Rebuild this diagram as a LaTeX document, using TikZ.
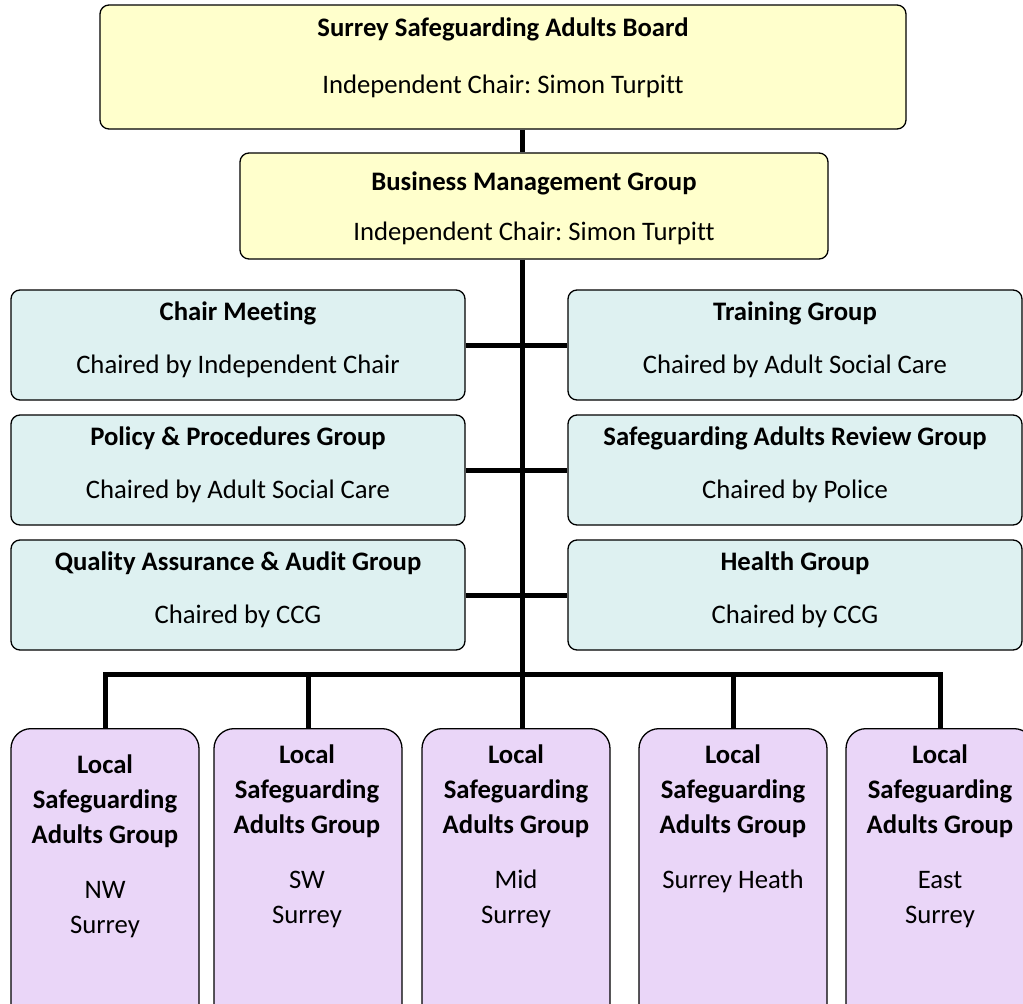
\documentclass[tikz,border=0pt]{standalone}
\usepackage{fontspec}
\setmainfont{Carlito}[Ligatures=NoCommon]
\frenchspacing

\definecolor{boardyellow}{RGB}{255,255,204}
\definecolor{groupcyan}{RGB}{222,241,241}
\definecolor{localviolet}{RGB}{234,214,248}

\begin{document}
\begin{tikzpicture}[x=1pt, y=-1pt,
    box/.style={draw, line width=1.3pt, rounded corners=9pt, inner sep=0pt},
    board/.style={box, fill=boardyellow},
    group/.style={box, fill=groupcyan, minimum width=454pt, minimum height=110pt,
        align=center, font=\fontsize{26.7}{53}\selectfont, text depth=14pt},
    local/.style={box, fill=localviolet, rounded corners=20pt, anchor=north,
        minimum width=188pt, minimum height=300pt},
    words/.style={inner sep=0pt, align=center, anchor=north, font=\fontsize{26.7}{35}\selectfont},
    link/.style={line width=5pt}]

    \useasboundingbox (0,0) rectangle (1023,1004);
    \clip (0,0) rectangle (1023,1004);

    % board and business group
    \node[board, minimum width=806pt, minimum height=124pt] (ssab) at (503,67) {};
    \node[words] (ssabt) at (503,18) {\textbf{Surrey Safeguarding Adults Board}\\[22pt]Independent Chair: Simon Turpitt};

    \node[board, minimum width=588pt, minimum height=106pt] (bmg) at (534,206) {};
    \node[words] (bmgt) at (534,172) {\textbf{Business Management Group}\\[15pt]Independent Chair: Simon Turpitt};

    % sub groups
    \node[group] (cm) at (238,345) {\textbf{Chair Meeting}\\Chaired by Independent Chair};
    \node[group] (tg) at (795,345) {\textbf{Training Group}\\Chaired by Adult Social Care};
    \node[group] (pp) at (238,470) {\textbf{Policy \& Procedures Group}\\Chaired by Adult Social Care};
    \node[group] (sar) at (795,470) {\textbf{Safeguarding Adults Review Group}\\Chaired by Police};
    \node[group] (qa) at (238,595) {\textbf{Quality Assurance \& Audit Group}\\Chaired by CCG};
    \node[group] (hg) at (795,595) {\textbf{Health Group}\\Chaired by CCG};

    % local groups
    \node[local] (nw) at (105,728) {};
    \node[words] (nwt) at (105,755) {\textbf{Local}\\\textbf{Safeguarding}\\\textbf{Adults Group}\\[20pt]NW\\Surrey};
    \node[local] (sw) at (308,728) {};
    \node[words] (swt) at (307,745) {\textbf{Local}\\\textbf{Safeguarding}\\\textbf{Adults Group}\\[20pt]SW\\Surrey};
    \node[local] (mid) at (516,728) {};
    \node[words] (midt) at (516,745) {\textbf{Local}\\\textbf{Safeguarding}\\\textbf{Adults Group}\\[20pt]Mid\\Surrey};
    \node[local] (sh) at (733,728) {};
    \node[words] (sht) at (733,745) {\textbf{Local}\\\textbf{Safeguarding}\\\textbf{Adults Group}\\[20pt]Surrey Heath};
    \node[local] (east) at (940,728) {};
    \node[words] (eastt) at (940,745) {\textbf{Local}\\\textbf{Safeguarding}\\\textbf{Adults Group}\\[20pt]East\\Surrey};

    % connectors
    \coordinate (bus) at (522,674);
    \draw[link] (ssab.south -| bus) -- (bmg.north -| bus);
    \draw[link] (bmg.south -| bus) -- (bus);
    \draw[link] (cm.east) -- (tg.west);
    \draw[link] (pp.east) -- (sar.west);
    \draw[link] (qa.east) -- (hg.west);
    \draw[link] (nw.north) |- (bus) -| (east.north);
    \draw[link] (bus -| sw.north) -- (sw.north);
    \draw[link] (bus) -- (bus |- mid.north);
    \draw[link] (bus -| sh.north) -- (sh.north);

\end{tikzpicture}
\end{document}
